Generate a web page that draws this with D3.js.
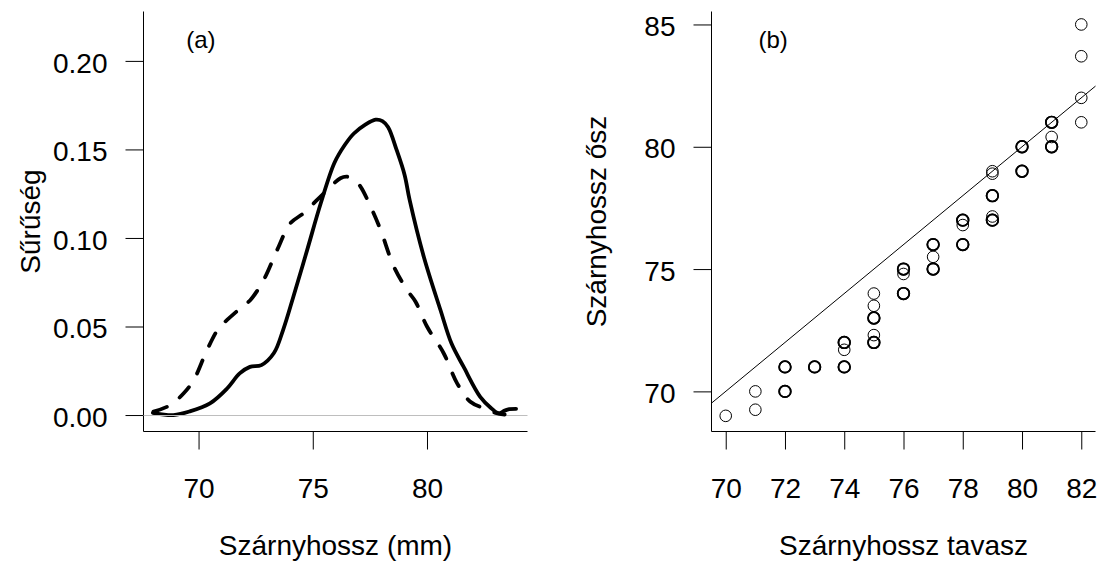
<!DOCTYPE html>
<html>
<head>
<meta charset="utf-8">
<script src="https://cdnjs.cloudflare.com/ajax/libs/d3/7.8.5/d3.min.js"></script>
<style>
  body { margin: 0; background: #fff; }
  svg { display: block; font-family: "Liberation Sans", Arial, sans-serif; }
</style>
</head>
<body>
<svg id="canvas"></svg>
<script>
// (a) density of wing length, two groups
let solidX = [68.0, 68.4, 68.9, 69.6, 70.5, 71.25, 71.8, 72.25, 72.75, 73.3, 73.7, 74.15, 74.75, 75.35, 75.95, 76.4, 76.8, 77.3, 77.75, 78.05, 78.3, 78.67, 79.02, 79.24, 79.86, 80.59, 81.07, 81.6, 82.33, 82.8, 83.13, 83.4, 83.6, 83.9];
let solidY = [0.0012, 0.0004, 0.0, 0.002, 0.0066, 0.015, 0.0235, 0.0272, 0.0282, 0.035, 0.048, 0.0668, 0.093, 0.1196, 0.1425, 0.1525, 0.159, 0.164, 0.1668, 0.166, 0.1625, 0.1497, 0.1356, 0.1215, 0.0894, 0.0593, 0.0405, 0.0273, 0.0103, 0.004, 0.001, 0.0025, 0.0033, 0.0035];
let dashedX = [68.03, 68.76, 69.35, 69.79, 70.37, 70.88, 71.25, 71.83, 72.27, 72.85, 73.44, 74.02, 74.6, 75.19, 75.63, 76.21, 76.5, 76.8, 77.09, 77.53, 77.97, 78.55, 79.13, 79.5, 80.0, 80.73, 81.32, 81.9, 82.49, 83.0, 83.4];
let dashedY = [0.0019, 0.0056, 0.0123, 0.0198, 0.0367, 0.049, 0.0537, 0.0603, 0.065, 0.0763, 0.0932, 0.1083, 0.114, 0.1215, 0.127, 0.1337, 0.1346, 0.133, 0.129, 0.1177, 0.1045, 0.0838, 0.0706, 0.064, 0.05, 0.0349, 0.0179, 0.0075, 0.0038, 0.0012, 0.0003];
let densTicksX = [70, 75, 80];
let densTicksY = [0, 0.05, 0.10, 0.15, 0.20];

// (b) spring vs autumn wing length
let spring = [70, 71, 71, 72, 72, 72, 72, 73, 73, 74, 74, 74, 74, 74, 75, 75, 75, 75, 75, 75, 75, 76, 76, 76, 76, 76, 77, 77, 77, 77, 77, 78, 78, 78, 78, 78, 79, 79, 79, 79, 79, 79, 79, 80, 80, 80, 80, 81, 81, 81, 81, 81, 82, 82, 82, 82];
let autumn = [69, 70, 69.25, 71, 71, 70, 70, 71, 71, 71, 71, 72, 72, 71.7, 74, 73.5, 73, 73, 72.3, 72, 72, 75, 75, 74.8, 74, 74, 76, 76, 75.5, 75, 75, 77, 77, 76.8, 76, 76, 79, 78.9, 78, 78, 77.15, 77, 77, 80, 80, 79, 79, 81, 81, 80.4, 80, 80, 85, 83.7, 82, 81];
let scatTicksX = [70, 72, 74, 76, 78, 80, 82];
let scatTicksY = [70, 75, 80, 85];
let lineIntercept = 0;
let lineSlope = 1;

let width = 1099;
let height = 579;
let plotTop = 11.5;
let plotBottom = 431.5;

let canvas = d3.select("#canvas")
canvas.attr("width", width);
canvas.attr("height", height);

let xA = d3.scaleLinear().domain([67.59, 84.40]).range([143.5, 527.5]);
let yA = d3.scaleLinear().domain([-0.0093, 0.2279]).range([plotBottom, plotTop]);
let xB = d3.scaleLinear().domain([69.52, 82.48]).range([711.5, 1095.5]);
let yB = d3.scaleLinear().domain([68.36, 85.53]).range([plotBottom, plotTop]);

let styleAxis = (g) => {
  g.attr("font-size", null).attr("font-family", null);
  g.select(".domain").remove();
  g.selectAll(".tick line").attr("stroke", "#000");
  g.selectAll(".tick text").attr("fill", "#000").style("font-size", "28px");
}

let drawAxes = (xScale, yScale, ticksX, ticksY, fmtY) => {
  let x0 = xScale.range()[0], x1 = xScale.range()[1];

  let xAxis = d3.axisBottom(xScale).tickValues(ticksX).tickFormat(d3.format("d"))
                .tickSize(18).tickPadding(29);
  let yAxis = d3.axisLeft(yScale).tickValues(ticksY).tickFormat(fmtY)
                .tickSize(18).tickPadding(18);

  canvas.append("g")
        .attr("transform", "translate(0, " + plotBottom + ")")
        .call(xAxis)
        .call(styleAxis);

  canvas.append("g")
        .attr("transform", "translate(" + x0 + ", 0)")
        .call(yAxis)
        .call(styleAxis)
        .selectAll(".tick text").attr("dy", "0.4em");

  // L shaped box
  canvas.append("path")
        .attr("d", "M" + x0 + "," + plotTop + "V" + plotBottom + "H" + x1)
        .attr("fill", "none")
        .attr("stroke", "#000")
        .attr("stroke-width", 1);
}

let drawLabels = (cx, xlab, ylabX, ylab) => {
  canvas.append("text")
        .attr("x", cx).attr("y", 555)
        .attr("text-anchor", "middle")
        .style("font-size", "28px")
        .text(xlab);
  canvas.append("text")
        .attr("transform", "translate(" + ylabX + ", " + ((plotTop + plotBottom) / 2) + ") rotate(-90)")
        .attr("text-anchor", "middle")
        .style("font-size", "28px")
        .text(ylab);
}

let drawDensity = () => {
  let line = d3.line()
               .x((d) => xA(d[0]))
               .y((d) => yA(d[1]))
               .curve(d3.curveCatmullRom.alpha(0.5));

  canvas.append("path")
        .datum(d3.zip(solidX, solidY))
        .attr("d", line)
        .attr("fill", "none")
        .attr("stroke", "#000")
        .attr("stroke-width", 3.8)
        .attr("stroke-linejoin", "round")
        .attr("stroke-linecap", "round");

  canvas.append("line")
        .attr("x1", xA.range()[0]).attr("x2", xA.range()[1])
        .attr("y1", Math.round(yA(0)) + 0.5).attr("y2", Math.round(yA(0)) + 0.5)
        .attr("stroke", "#bebebe")
        .attr("stroke-width", 1);

  canvas.append("path")
        .datum(d3.zip(dashedX, dashedY))
        .attr("d", line)
        .attr("fill", "none")
        .attr("stroke", "#000")
        .attr("stroke-width", 3.8)
        .attr("stroke-dasharray", "14,16")
        .attr("stroke-linecap", "round");

  canvas.append("text")
        .attr("x", xA(70.1)).attr("y", yA(0.212))
        .attr("dy", "0.35em")
        .attr("text-anchor", "middle")
        .style("font-size", "24px")
        .text("(a)");
}

let drawScatter = () => {
  let dom = xB.domain();
  canvas.append("line")
        .attr("x1", xB(dom[0])).attr("y1", yB(lineIntercept + lineSlope * dom[0]))
        .attr("x2", xB(dom[1])).attr("y2", yB(lineIntercept + lineSlope * dom[1]))
        .attr("stroke", "#000")
        .attr("stroke-width", 1);

  let points = d3.zip(spring, autumn);
  // overlapping birds show up as a heavier ring
  let counts = d3.rollup(points, (v) => v.length, (d) => d[0] + "_" + d[1]);

  canvas.selectAll("circle")
        .data(points)
        .enter()
        .append("circle")
        .attr("cx", (d) => xB(d[0]))
        .attr("cy", (d) => yB(d[1]))
        .attr("r", 5.8)
        .attr("fill", "none")
        .attr("stroke", "#000")
        .attr("stroke-width", (d) => counts.get(d[0] + "_" + d[1]) > 1 ? 1.7 : 1);

  canvas.append("text")
        .attr("x", xB(71.6)).attr("y", yB(84.38))
        .attr("dy", "0.35em")
        .attr("text-anchor", "middle")
        .style("font-size", "24px")
        .text("(b)");
}

drawAxes(xA, yA, densTicksX, densTicksY, d3.format(".2f"));
drawAxes(xB, yB, scatTicksX, scatTicksY, d3.format("d"));
drawDensity();
drawScatter();
drawLabels(335.5, "Szárnyhossz (mm)", 40, "Sűrűség");
drawLabels(903.5, "Szárnyhossz tavasz", 606, "Szárnyhossz ősz");
</script>
</body>
</html>
